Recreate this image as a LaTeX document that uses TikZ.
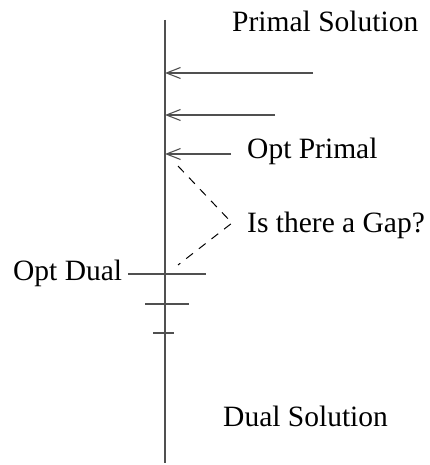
\documentclass[tikz,border=0pt]{standalone}
\usepackage{fontspec}
\setmainfont{Liberation Serif}
\usetikzlibrary{arrows.meta}
\definecolor{axis}{HTML}{505050}
\tikzset{
  lbl/.style={anchor=base west, inner sep=0pt, font=\fontsize{29.5}{34}\selectfont},
  ln/.style={draw=axis, line width=1.3pt},
  bound/.style={ln, -{Straight Barb[length=14pt,width=11pt,line width=1.1pt]}},
  gapline/.style={draw=black, line width=1pt, dash pattern=on 8.5pt off 7.5pt}
}
\begin{document}
\begin{tikzpicture}[x=1pt,y=-1pt]
\useasboundingbox (0,0) rectangle (430,465);
% value axis
\coordinate (top) at (165,20);
\coordinate (bot) at (165,463);
\draw[ln] (top) -- (bot);
% primal bounds approaching from above
\coordinate (p1s) at (313,73);  \coordinate (p1e) at (165,73);
\coordinate (p2s) at (275,115); \coordinate (p2e) at (165,115);
\coordinate (p3s) at (231,154); \coordinate (p3e) at (165,154);
\draw[bound] (p1s) -- (p1e);
\draw[bound] (p2s) -- (p2e);
\draw[bound] (p3s) -- (p3e);
% dual bounds from below
\coordinate (d1a) at (128,274); \coordinate (d1b) at (206,274);
\coordinate (d2a) at (145,304); \coordinate (d2b) at (189,304);
\coordinate (d3a) at (153,333); \coordinate (d3b) at (174,333);
\draw[ln] (d1a) -- (d1b);
\draw[ln] (d2a) -- (d2b);
\draw[ln] (d3a) -- (d3b);
% gap between the optima
\coordinate (g1) at (178,166);
\coordinate (gc) at (232,223);
\coordinate (g2) at (178,265);
\draw[gapline] (g1) -- (gc) -- (g2);
% labels
\node[lbl] (primal) at (232,32) {Primal Solution};
\node[lbl] (optp) at (247,158) {Opt Primal};
\node[lbl] (gap) at (247,232) {Is there a Gap?};
\node[lbl] (optd) at (13,280) {Opt Dual};
\node[lbl] (dual) at (223,426) {Dual Solution};
\end{tikzpicture}
\end{document}
